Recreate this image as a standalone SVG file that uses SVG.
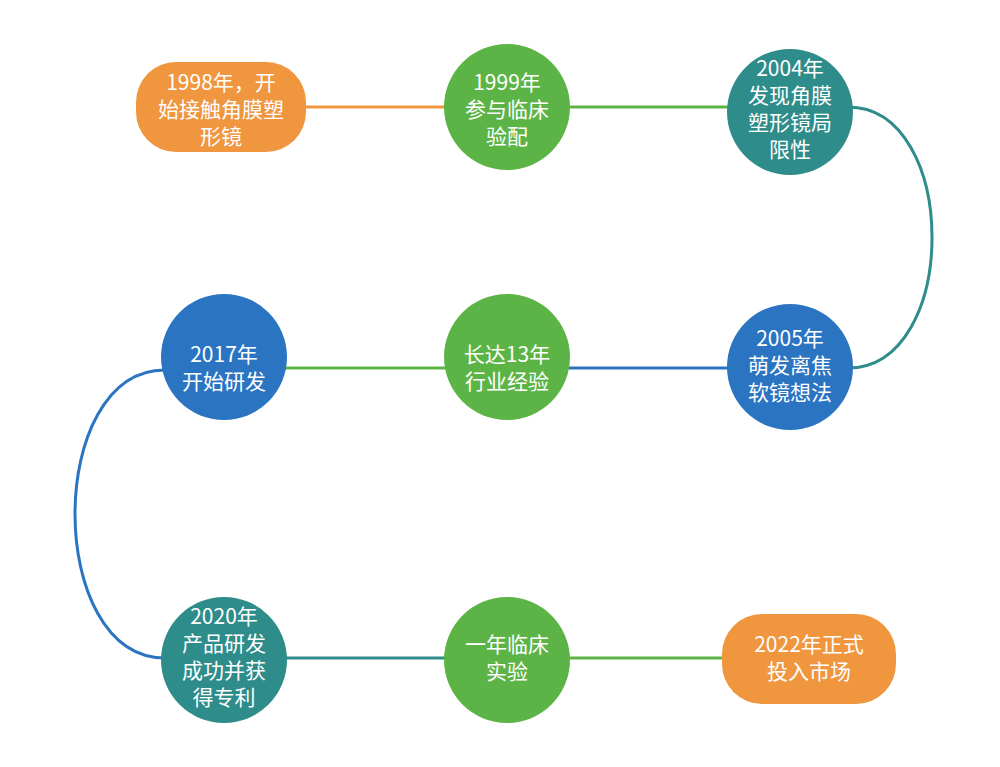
<svg xmlns="http://www.w3.org/2000/svg" width="1000" height="767" viewBox="0 0 1000 767">
<style>
text{font-family:"Noto Sans CJK SC","Noto Sans",sans-serif;font-size:21px;fill:#fff;text-anchor:middle}
.c{fill:none;stroke-width:3}
</style>
<rect width="1000" height="767" fill="#fff"/>
<g id="connectors">
<line class="c" x1="300" y1="107" x2="450" y2="107" stroke="#F0963F"/>
<line class="c" x1="565" y1="107" x2="735" y2="107" stroke="#5DB446"/>
<path class="c" d="M848,107 C960,107 960,368 848,368" stroke="#2E8C8A"/>
<line class="c" x1="565" y1="368" x2="735" y2="368" stroke="#2A74C2"/>
<line class="c" x1="280" y1="368" x2="450" y2="368" stroke="#5DB446"/>
<path class="c" d="M165,370 C45,370 45,658 165,658" stroke="#2A74C2"/>
<line class="c" x1="280" y1="658" x2="450" y2="658" stroke="#2E8C8A"/>
<line class="c" x1="565" y1="658" x2="730" y2="658" stroke="#5DB446"/>
</g>
<g id="n1"><rect x="136" y="62" width="170" height="90" rx="40" fill="#F0963F"/>
<text x="221" y="90">1998年，开</text><text x="221" y="117">始接触角膜塑</text><text x="221" y="144">形镜</text></g>
<g id="n2"><circle cx="507" cy="107" r="63" fill="#5DB446"/>
<text x="507" y="90">1999年</text><text x="507" y="117">参与临床</text><text x="507" y="144">验配</text></g>
<g id="n3"><circle cx="790" cy="112" r="63" fill="#2E8C8A"/>
<text x="790" y="76">2004年</text><text x="790" y="103">发现角膜</text><text x="790" y="130">塑形镜局</text><text x="790" y="157">限性</text></g>
<g id="n4"><circle cx="790" cy="367" r="63" fill="#2A74C2"/>
<text x="790" y="346">2005年</text><text x="790" y="373">萌发离焦</text><text x="790" y="400">软镜想法</text></g>
<g id="n5"><circle cx="507" cy="357" r="63" fill="#5DB446"/>
<text x="507" y="362">长达13年</text><text x="507" y="389">行业经验</text></g>
<g id="n6"><circle cx="224" cy="357" r="63" fill="#2A74C2"/>
<text x="224" y="362">2017年</text><text x="224" y="389">开始研发</text></g>
<g id="n7"><circle cx="224" cy="660" r="63" fill="#2E8C8A"/>
<text x="224" y="624">2020年</text><text x="224" y="651">产品研发</text><text x="224" y="678">成功并获</text><text x="224" y="705">得专利</text></g>
<g id="n8"><circle cx="507" cy="660" r="63" fill="#5DB446"/>
<text x="507" y="652">一年临床</text><text x="507" y="679">实验</text></g>
<g id="n9"><rect x="722" y="614" width="174" height="90" rx="40" fill="#F0963F"/>
<text x="809" y="652">2022年正式</text><text x="809" y="679">投入市场</text></g>
</svg>
